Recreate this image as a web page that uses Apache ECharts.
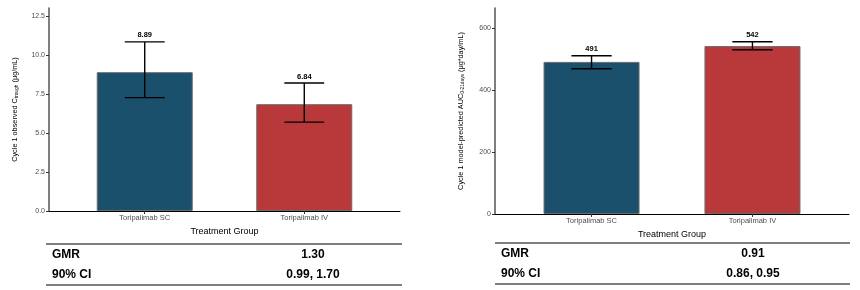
<!DOCTYPE html>
<html><head><meta charset="utf-8">
<script src="https://cdn.jsdelivr.net/npm/echarts@6/dist/echarts.min.js"></script>
<style>html,body{margin:0;padding:0;background:#fff}#c{width:860px;height:290px}</style>
</head><body><div id="c"></div>
<script>
const categories = ["Toripalimab SC", "Toripalimab IV"];
const ctroughMean = [8.89, 6.84];
const ctroughLower = [7.26, 5.69];
const ctroughUpper = [10.83, 8.20];
const aucMean = [491, 542];
const aucLower = [469, 530];
const aucUpper = [511, 556];
const leftTicks = [0, 2.5, 5, 7.5, 10, 12.5];
const rightTicks = [0, 200, 400, 600];
const barColors = ["#1b506c", "#b9393b"];
const tableRows = ["GMR", "90% CI"];
const leftTableValues = ["1.30", "0.99, 1.70"];
const rightTableValues = ["0.91", "0.86, 0.95"];

const FONT = "Liberation Sans";
const chart = echarts.init(document.getElementById('c'));

function xAxis(gi) {
  return {
    gridIndex: gi, type: 'value', min: 0.4, max: 2.6,
    name: 'Treatment Group', nameLocation: 'middle', nameGap: 15,
    nameTextStyle: {fontFamily: FONT, fontSize: 9, color: '#000'},
    axisLine: {show: true, lineStyle: {color: '#000', width: 1}},
    axisTick: {show: true, customValues: [1, 2], length: 3, lineStyle: {color: '#333'}},
    axisLabel: {customValues: [1, 2], margin: 3, fontFamily: FONT, fontSize: 7.5, color: '#4d4d4d',
      formatter: v => categories[Math.round(v) - 1]},
    splitLine: {show: false}
  };
}
function yAxis(gi, max, ticks, fmt, name, rich) {
  return {
    gridIndex: gi, type: 'value', min: 0, max: max,
    name: name, nameLocation: 'middle', nameGap: 30,
    nameTextStyle: {fontFamily: FONT, fontSize: 7.3, color: '#000', rich: rich},
    axisLine: {show: true, lineStyle: {color: '#555', width: 1.5}},
    axisTick: {show: true, customValues: ticks, length: 3, lineStyle: {color: '#333'}},
    axisLabel: {customValues: ticks, margin: 4, fontFamily: FONT, fontSize: 7, color: '#4d4d4d', formatter: fmt},
    splitLine: {show: false}
  };
}
const subRich = {
  s: {fontSize: 4.8, fontFamily: FONT, color: '#000', padding: [4, 0, 0, 0]}
};

function barSeries(idx, means) {
  return {
    type: 'bar', xAxisIndex: idx, yAxisIndex: idx, barWidth: 96, z: 2,
    data: means.map((m, i) => ({value: [i + 1, m], itemStyle: {color: barColors[i], borderColor: '#6b6b6b', borderWidth: 1}})),
    animation: false, silent: true
  };
}
function errSeries(idx, means, lo, hi) {
  return {
    type: 'custom', xAxisIndex: idx, yAxisIndex: idx, animation: false, silent: true, z: 10,
    data: means.map((m, i) => [i + 1, lo[i], hi[i], m]),
    renderItem: function (params, api) {
      const x = api.value(0);
      const pLo = api.coord([x, api.value(1)]);
      const pHi = api.coord([x, api.value(2)]);
      const half = api.size([0.125, 0])[0];
      const st = {stroke: '#000', lineWidth: 1.4};
      const m = api.value(3);
      return {type: 'group', children: [
        {type: 'line', shape: {x1: pLo[0], y1: pLo[1], x2: pHi[0], y2: pHi[1]}, style: st},
        {type: 'line', shape: {x1: pLo[0] - half, y1: pLo[1], x2: pLo[0] + half, y2: pLo[1]}, style: st},
        {type: 'line', shape: {x1: pHi[0] - half, y1: pHi[1], x2: pHi[0] + half, y2: pHi[1]}, style: st},
        {type: 'text', x: pHi[0], y: pHi[1] - 2.5, style: {text: String(m), fontFamily: FONT, fontSize: 7.5, fontWeight: 'bold', fill: '#000', align: 'center', verticalAlign: 'bottom'}}
      ]};
    }
  };
}

function table(x1, x2, yTop, yBot, valCenter, values) {
  const els = [
    {type: 'line', shape: {x1: x1, y1: yTop, x2: x2, y2: yTop}, style: {stroke: '#555', lineWidth: 1.3}},
    {type: 'line', shape: {x1: x1, y1: yBot, x2: x2, y2: yBot}, style: {stroke: '#555', lineWidth: 1.3}}
  ];
  tableRows.forEach((r, i) => {
    const y = yTop + 11 + i * 20;
    els.push({type: 'text', x: x1 + 6, y: y, style: {text: r, fontFamily: FONT, fontSize: 12, fontWeight: 'bold', fill: '#000', verticalAlign: 'middle'}});
    els.push({type: 'text', x: valCenter, y: y, style: {text: values[i], fontFamily: FONT, fontSize: 12, fontWeight: 'bold', fill: '#000', align: 'center', verticalAlign: 'middle'}});
  });
  return els;
}

chart.setOption({
  animation: false,
  grid: [
    {left: 49, right: 460, top: 8, bottom: 79},
    {left: 495, right: 11, top: 8, bottom: 76}
  ],
  xAxis: [xAxis(0), xAxis(1)],
  yAxis: [
    yAxis(0, 13.0, leftTicks, v => v.toFixed(1), 'Cycle 1 observed C{s|trough} (μg/mL)', subRich),
    yAxis(1, 665, rightTicks, v => String(v), 'Cycle 1 model-predicted AUC{s|0-21days} (μg*day/mL)', subRich)
  ],
  series: [
    barSeries(0, ctroughMean), errSeries(0, ctroughMean, ctroughLower, ctroughUpper),
    barSeries(1, aucMean), errSeries(1, aucMean, aucLower, aucUpper)
  ],
  graphic: [].concat(
    table(46, 402, 244, 285, 313, leftTableValues),
    table(495, 850, 243, 284, 753, rightTableValues)
  )
});
</script></body></html>
